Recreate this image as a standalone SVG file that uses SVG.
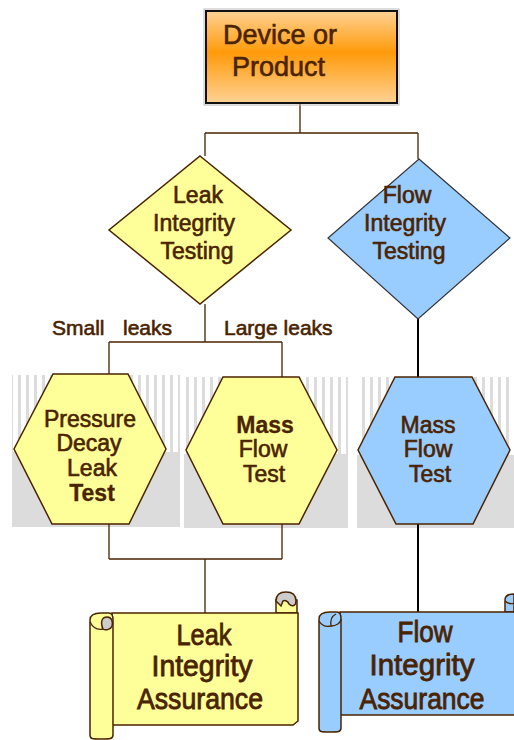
<svg xmlns="http://www.w3.org/2000/svg" width="514" height="740" viewBox="0 0 514 740">
<defs>
<linearGradient id="og" x1="0" y1="0" x2="0" y2="1">
<stop offset="0" stop-color="#FFD294"/>
<stop offset="0.45" stop-color="#FF9A0A"/>
<stop offset="1" stop-color="#FFD294"/>
</linearGradient>
<pattern id="stripes" x="0" y="0" width="8" height="10" patternUnits="userSpaceOnUse">
<rect x="0" y="0" width="8" height="10" fill="#ffffff"/>
<rect x="2" y="0" width="3" height="10" fill="#dcdcdc"/>
</pattern>
<style>
text{font-family:"Liberation Sans",Arial,sans-serif;fill:#4A2300;stroke:#4A2300;stroke-width:0.6px;}
.t24{font-size:23px;}
.lab{font-size:21px;}
.ctr{text-anchor:middle;}
.b{font-weight:bold;stroke-width:0.3px;}
.scr{font-size:29px;text-anchor:middle;stroke-width:0.8px;}
.yel{fill:#FFFF99;stroke:#4A2300;stroke-width:1.5;}
.blu{fill:#99CCFF;stroke:#4A2300;stroke-width:1.5;}
.gray{fill:#CCCCCC;stroke:#4A2300;stroke-width:1.5;}
.bc{stroke:#4A2300;stroke-width:1.3;fill:none;}
.kc{stroke:#000000;stroke-width:2;fill:none;}
</style>
</defs>
<rect width="514" height="740" fill="#ffffff"/>

<g id="backgrounds">
<rect x="12" y="375" width="168" height="77" fill="url(#stripes)"/>
<rect x="12" y="452" width="168" height="75" fill="#dcdcdc"/>
<rect x="184" y="377" width="164" height="77" fill="url(#stripes)"/>
<rect x="184" y="454" width="164" height="74" fill="#dcdcdc"/>
<rect x="357" y="377" width="157" height="78" fill="url(#stripes)"/>
<rect x="357" y="455" width="157" height="73" fill="#dcdcdc"/>
</g>

<g id="connectors">
<path class="bc" d="M300,104 V133 M205,133 H418 M205,133 V156 M418,133 V159"/>
<path class="bc" d="M205,304 V342 M109,342 H282 M109,342 V375 M282,342 V377"/>
<path class="bc" d="M109,524 V559 M282,524 V559 M109,559 H282 M205,559 V613"/>
<path class="kc" d="M418,319 V377 M418,524 V612"/>
</g>

<g id="device">
<rect x="204" y="9" width="195" height="96" fill="none" stroke="#bbbbbb" stroke-width="1"/>
<rect x="206" y="11" width="191" height="92" fill="url(#og)" stroke="#111111" stroke-width="2"/>
<text x="223" y="44" style="font-size:27px">Device or</text>
<text x="232" y="76" style="font-size:27px">Product</text>
</g>

<g id="leak-testing">
<polygon class="yel" points="200,156 291,230 200,304 109,230"/>
<text class="t24 ctr" x="198" y="203">Leak</text>
<text class="t24 ctr" x="194" y="231">Integrity</text>
<text class="t24 ctr" x="197" y="259">Testing</text>
</g>

<g id="flow-testing">
<polygon points="419,159 510,238 418,319 328,238" fill="#99CCFF" stroke="#333333" stroke-width="1.2"/>
<text class="t24 ctr" x="407" y="203">Flow</text>
<text class="t24 ctr" x="405" y="231">Integrity</text>
<text class="t24 ctr" x="409" y="259">Testing</text>
</g>

<g id="labels">
<text class="lab" x="52" y="335">Small</text>
<text class="lab" x="123" y="335">leaks</text>
<text class="lab" x="224" y="335">Large leaks</text>
</g>

<g id="pressure-decay">
<polygon class="yel" points="53,374 128,374 166,449 129,524 52,524 14,449"/>
<text class="t24 ctr" x="90" y="427">Pressure</text>
<text class="t24 ctr" x="89" y="451">Decay</text>
<text class="t24 ctr" x="92" y="476">Leak</text>
<text class="t24 ctr b" x="92" y="501">Test</text>
</g>

<g id="mass-flow-leak">
<polygon class="yel" points="223,377 299,377 337,450 299,524 223,524 186,450"/>
<text class="t24 ctr b" x="265" y="433">Mass</text>
<text class="t24 ctr" x="263" y="457">Flow</text>
<text class="t24 ctr" x="264" y="482">Test</text>
</g>

<g id="mass-flow-flow">
<polygon class="blu" points="395,377 472,377 510,450 473,524 396,524 358,450"/>
<text class="t24 ctr" x="428" y="433">Mass</text>
<text class="t24 ctr" x="428" y="457">Flow</text>
<text class="t24 ctr" x="430" y="482">Test</text>
</g>

<g id="leak-assurance">
<path class="yel" d="M276,613 V600 H297 V613 Z"/>
<path class="gray" d="M276,601 C276,594 281,592 286,592 C292,592 296,595 296,601 C296,606 292,607 289,604 C288,601 285,600 283,601 L281,606 Z"/>
<path class="yel" d="M112,613 H298 V721 L293,725 H112 Z"/>
<path class="yel" d="M90,620 C90,615 95,613 101,613 H109 C112,613 113,616 113,620 V735 C113,739 110,739 101,739 C92,739 90,739 90,735 Z"/>
<path class="gray" d="M103,629 C100,622 102,617 107,617 C112,617 113,622 112,626 C111,629 106,631 103,629 Z"/>
<path class="bc" d="M90,622 C93,628 98,630 103,629"/>
<text class="scr" x="204" y="645" textLength="55" lengthAdjust="spacingAndGlyphs">Leak</text>
<text class="scr" x="202" y="676" textLength="101" lengthAdjust="spacingAndGlyphs">Integrity</text>
<text class="scr" x="200" y="709" textLength="126" lengthAdjust="spacingAndGlyphs">Assurance</text>
</g>

<g id="flow-assurance">
<path class="blu" d="M505,612 V600 C505,596 509,594 514,594 V612 Z"/>
<path class="bc" d="M505,601 C508,604 512,604 514,603"/>
<path class="blu" d="M340,612 H516 V715 H340 Z"/>
<path class="blu" d="M319,619 C319,614 324,612 330,612 H337 C340,612 341,615 341,619 V728 C341,732 338,732 330,732 C321,732 319,732 319,728 Z"/>
<path class="bc" d="M319,621 C322,626 327,627 331,626 C330,620 332,616 336,614"/>
<path class="bc" d="M331,626 C336,626 341,623 341,619"/>
<text class="scr" x="425" y="642" textLength="55" lengthAdjust="spacingAndGlyphs">Flow</text>
<text class="scr" x="422" y="675" textLength="105" lengthAdjust="spacingAndGlyphs">Integrity</text>
<text class="scr" x="422" y="709" textLength="125" lengthAdjust="spacingAndGlyphs">Assurance</text>
</g>
</svg>
